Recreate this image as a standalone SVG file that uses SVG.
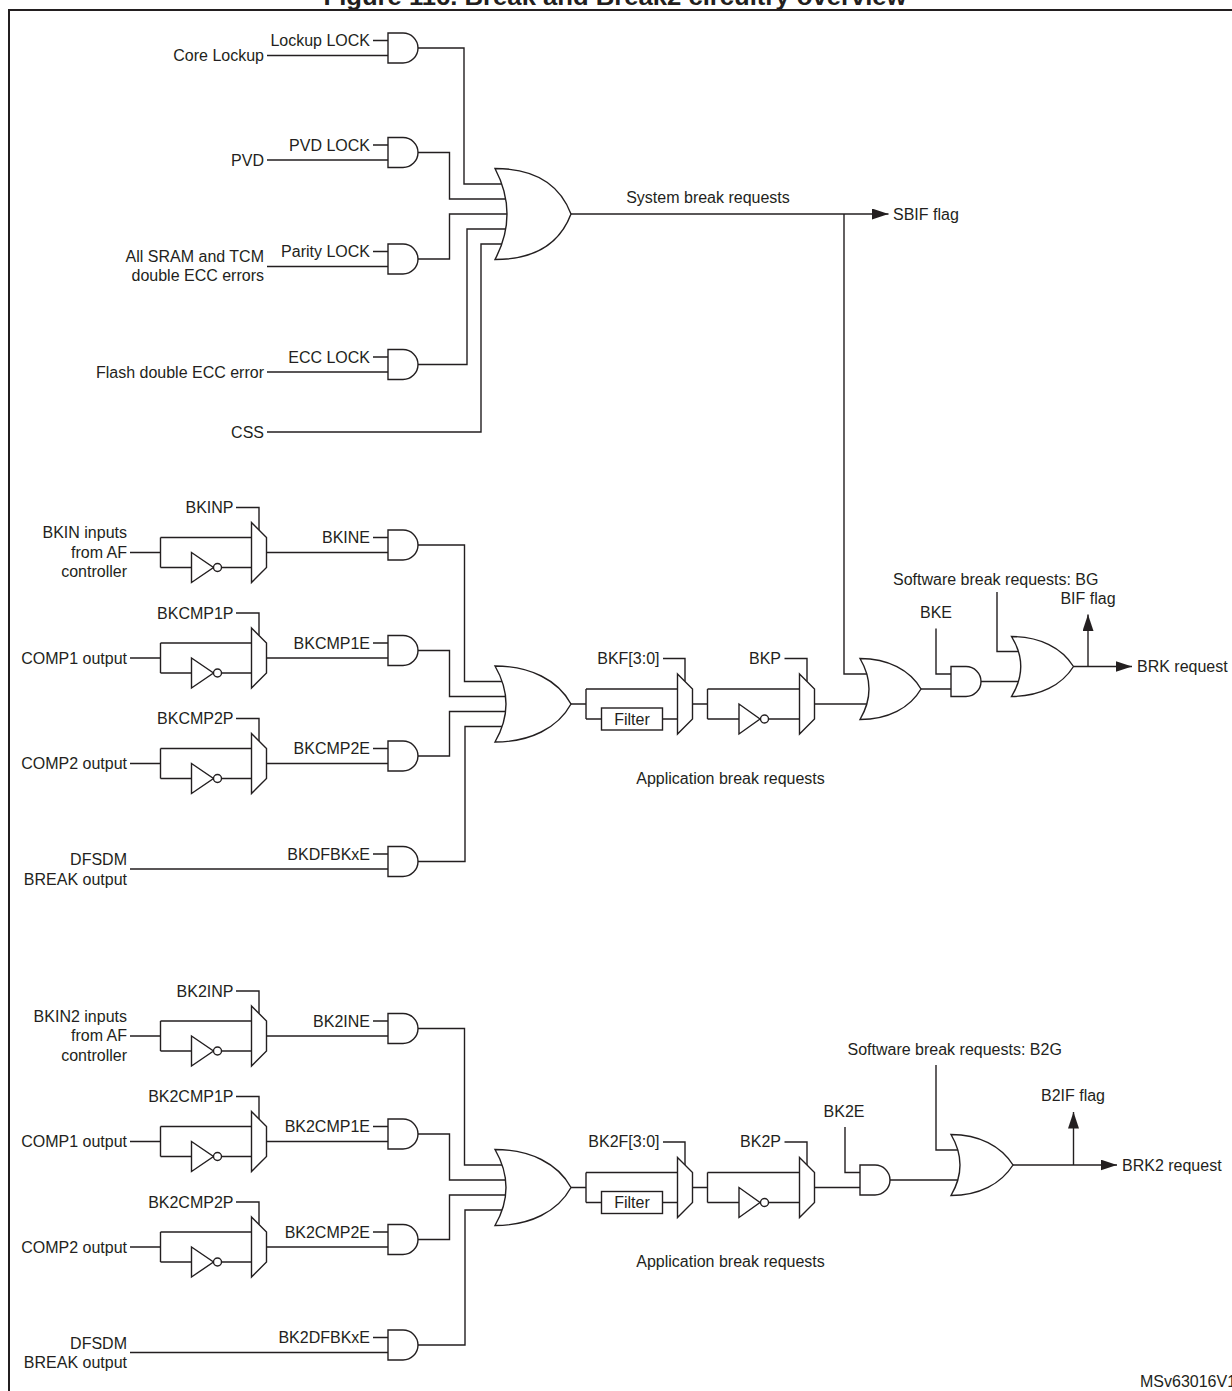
<svg xmlns="http://www.w3.org/2000/svg" width="1232" height="1391" viewBox="0 0 1232 1391">
<style>
.w{fill:none;stroke:#231f20;stroke-width:1.4}
.g{fill:#fff;stroke:#231f20;stroke-width:1.4}
.t{font-family:"Liberation Sans",Arial,sans-serif;font-size:16px;fill:#231f20}
.e{text-anchor:end}
.m{text-anchor:middle}
.ttl{font-family:"Liberation Sans",Arial,sans-serif;font-size:24px;font-weight:bold;fill:#231f20;text-anchor:middle}
</style>
<defs>
<marker id="arr" markerUnits="userSpaceOnUse" markerWidth="18" markerHeight="12" refX="16.5" refY="5.5" orient="auto">
<path d="M0,0 L16.5,5.5 L0,11 Z" fill="#231f20"/>
</marker>
</defs>
<rect width="1232" height="1391" fill="#fff"/>
<text class="ttl" x="615" y="5" textLength="583" lengthAdjust="spacingAndGlyphs">Figure 116. Break and Break2 circuitry overview</text>
<rect x="9" y="10" width="1240" height="1400" fill="none" stroke="#231f20" stroke-width="2"/>

<g id="connectors">
<!-- section 1 -->
<path class="w" d="M373,40.5 H388 M267,55.5 H388"/>
<path class="w" d="M373,145 H388 M267,160 H388"/>
<path class="w" d="M373,251.5 H388 M267,266.5 H388"/>
<path class="w" d="M373,357 H388 M267,372 H388"/>
<path class="w" d="M418,48 H464 V184 H510"/>
<path class="w" d="M418,152.5 H449.5 V199 H510"/>
<path class="w" d="M418,259 H449.5 V214 H510"/>
<path class="w" d="M418,364.5 H467 V229 H510"/>
<path class="w" d="M267,432 H481 V244 H510"/>
<path class="w" d="M571,214 H888.5" marker-end="url(#arr)"/>
<path class="w" d="M844,214 V674 H875"/>
<!-- section 2 inputs -->
<path class="w" d="M130,552.5 H160.5 M160.5,537.5 V567.5 M160.5,537.5 H251.5 M160.5,567.5 H191.5 M221.5,567.5 H251.5 M236,507.5 H259 V530 M266.5,552.5 H388 M373,537.5 H388"/>
<path class="w" d="M130,658 H160.5 M160.5,643 V673 M160.5,643 H251.5 M160.5,673 H191.5 M221.5,673 H251.5 M236,613 H259 V635.5 M266.5,658 H388 M373,643 H388"/>
<path class="w" d="M130,763.5 H160.5 M160.5,748.5 V778.5 M160.5,748.5 H251.5 M160.5,778.5 H191.5 M221.5,778.5 H251.5 M236,718.5 H259 V741 M266.5,763.5 H388 M373,748.5 H388"/>
<path class="w" d="M130,869 H388 M373,854 H388"/>
<path class="w" d="M418,545 H464.5 V681.5 H510"/>
<path class="w" d="M418,650.5 H449.5 V696.5 H510"/>
<path class="w" d="M418,756 H449.5 V711.5 H510"/>
<path class="w" d="M418,861.5 H465 V726.5 H510"/>
<!-- section 2 middle -->
<path class="w" d="M571,704 H586 M586,689 V719 M586,689 H677.5 M586,719 H601.5 M662.5,719 H677.5 M663,658.5 H685 V681.5"/>
<path class="w" d="M692.5,704 H707.5 M707.5,689 V719 M707.5,689 H799.5 M707.5,719 H739 M768.5,719 H799.5 M784.5,658.5 H807 V681.5"/>
<path class="w" d="M814.5,704 H870"/>
<path class="w" d="M921,689 H951 M936,628.5 V674 H951"/>
<path class="w" d="M981,681.5 H1020 M997,592 V651.5 H1020"/>
<path class="w" d="M1073.5,666.5 H1132" marker-end="url(#arr)"/>
<path class="w" d="M1088,666.5 V614.5" marker-end="url(#arr)"/>
<!-- section 3 inputs -->
<path class="w" d="M130,1036 H160.5 M160.5,1021 V1051 M160.5,1021 H251.5 M160.5,1051 H191.5 M221.5,1051 H251.5 M236,991 H259 V1013.5 M266.5,1036 H388 M373,1021 H388"/>
<path class="w" d="M130,1141.5 H160.5 M160.5,1126.5 V1156.5 M160.5,1126.5 H251.5 M160.5,1156.5 H191.5 M221.5,1156.5 H251.5 M236,1096.5 H259 V1119 M266.5,1141.5 H388 M373,1126.5 H388"/>
<path class="w" d="M130,1247 H160.5 M160.5,1232 V1262 M160.5,1232 H251.5 M160.5,1262 H191.5 M221.5,1262 H251.5 M236,1202 H259 V1224.5 M266.5,1247 H388 M373,1232 H388"/>
<path class="w" d="M130,1352.5 H388 M373,1337.5 H388"/>
<path class="w" d="M418,1028.5 H464.5 V1165 H510"/>
<path class="w" d="M418,1134 H449.5 V1180 H510"/>
<path class="w" d="M418,1239.5 H449.5 V1195 H510"/>
<path class="w" d="M418,1345 H465 V1210 H510"/>
<!-- section 3 middle -->
<path class="w" d="M571,1187.5 H586 M586,1172.5 V1202.5 M586,1172.5 H677.5 M586,1202.5 H601.5 M662.5,1202.5 H677.5 M663,1142 H685 V1165"/>
<path class="w" d="M692.5,1187.5 H707.5 M707.5,1172.5 V1202.5 M707.5,1172.5 H799.5 M707.5,1202.5 H739 M768.5,1202.5 H799.5 M784.5,1142 H807 V1165"/>
<path class="w" d="M814.5,1187.5 H860 M845,1127 V1172.5 H860"/>
<path class="w" d="M890,1180 H960 M936,1065 V1150 H960"/>
<path class="w" d="M1013,1165 H1117" marker-end="url(#arr)"/>
<path class="w" d="M1073.5,1165 V1112" marker-end="url(#arr)"/>
</g>

<!-- Section 1 nodes -->
<g id="and-lockup">
<path class="g" d="M388,33 H403 A15,15 0 0 1 403,63 H388 Z"/>
<text class="t e" x="370" y="46">Lockup LOCK</text>
<text class="t e" x="264" y="61">Core Lockup</text>
</g>
<g id="and-pvd">
<path class="g" d="M388,137.5 H403 A15,15 0 0 1 403,167.5 H388 Z"/>
<text class="t e" x="370" y="150.5">PVD LOCK</text>
<text class="t e" x="264" y="165.5">PVD</text>
</g>
<g id="and-parity">
<path class="g" d="M388,244 H403 A15,15 0 0 1 403,274 H388 Z"/>
<text class="t e" x="370" y="257">Parity LOCK</text>
<text class="t e" x="264" y="262">All SRAM and TCM</text>
<text class="t e" x="264" y="281">double ECC errors</text>
</g>
<g id="and-ecc">
<path class="g" d="M388,349.5 H403 A15,15 0 0 1 403,379.5 H388 Z"/>
<text class="t e" x="370" y="362.5">ECC LOCK</text>
<text class="t e" x="264" y="377.5">Flash double ECC error</text>
</g>
<g id="css">
<text class="t e" x="264" y="437.5">CSS</text>
</g>
<g id="or-system">
<path class="g" d="M495,168.5 C535,168.5 560,185 571,214 C560,243 535,259.5 495,259.5 Q519,214 495,168.5 Z"/>
<text class="t m" x="708" y="203">System break requests</text>
</g>
<g id="sbif">
<text class="t" x="893" y="219.5">SBIF flag</text>
</g>

<!-- Section 2 nodes -->
<g id="bkin">
<text class="t e" x="127" y="538">BKIN inputs</text>
<text class="t e" x="127" y="557.5">from AF</text>
<text class="t e" x="127" y="577">controller</text>
<path class="g" d="M191.5,552.5 V582.5 L213.5,567.5 Z"/>
<circle class="g" cx="217.5" cy="567.5" r="4"/>
<path class="g" d="M251.5,522.5 L266.5,537.5 V567.5 L251.5,582.5 Z"/>
<text class="t e" x="233.5" y="513">BKINP</text>
<path class="g" d="M388,530 H403 A15,15 0 0 1 403,560 H388 Z"/>
<text class="t e" x="370" y="543">BKINE</text>
</g>
<g id="bkcmp1">
<text class="t e" x="127" y="663.5">COMP1 output</text>
<path class="g" d="M191.5,658 V688 L213.5,673 Z"/>
<circle class="g" cx="217.5" cy="673" r="4"/>
<path class="g" d="M251.5,628 L266.5,643 V673 L251.5,688 Z"/>
<text class="t e" x="233.5" y="618.5">BKCMP1P</text>
<path class="g" d="M388,635.5 H403 A15,15 0 0 1 403,665.5 H388 Z"/>
<text class="t e" x="370" y="648.5">BKCMP1E</text>
</g>
<g id="bkcmp2">
<text class="t e" x="127" y="769">COMP2 output</text>
<path class="g" d="M191.5,763.5 V793.5 L213.5,778.5 Z"/>
<circle class="g" cx="217.5" cy="778.5" r="4"/>
<path class="g" d="M251.5,733.5 L266.5,748.5 V778.5 L251.5,793.5 Z"/>
<text class="t e" x="233.5" y="724">BKCMP2P</text>
<path class="g" d="M388,741 H403 A15,15 0 0 1 403,771 H388 Z"/>
<text class="t e" x="370" y="754">BKCMP2E</text>
</g>
<g id="bkdfsdm">
<text class="t e" x="127" y="865">DFSDM</text>
<text class="t e" x="127" y="884.5">BREAK output</text>
<path class="g" d="M388,846.5 H403 A15,15 0 0 1 403,876.5 H388 Z"/>
<text class="t e" x="370" y="859.5">BKDFBKxE</text>
</g>
<g id="or-app">
<path class="g" d="M495,666 C530,666 558,680 571,704 C558,728 530,742 495,742 Q517,704 495,666 Z"/>
</g>
<g id="filter">
<rect class="g" x="601.5" y="708" width="61" height="22"/>
<text class="t m" x="632" y="724.5">Filter</text>
<path class="g" d="M677.5,674 L692.5,689 V719 L677.5,734 Z"/>
<text class="t e" x="659.5" y="663.5">BKF[3:0]</text>
</g>
<g id="polarity">
<path class="g" d="M739,704 V734 L760,719 Z"/>
<circle class="g" cx="764.5" cy="719" r="4"/>
<path class="g" d="M799.5,674 L814.5,689 V719 L799.5,734 Z"/>
<text class="t e" x="781" y="663.5">BKP</text>
<text class="t m" x="730.5" y="783.5">Application break requests</text>
</g>
<g id="or-brk1">
<path class="g" d="M860,658.5 C888,658.5 910,670 921,689 C910,708 888,719.5 860,719.5 Q878,689 860,658.5 Z"/>
</g>
<g id="and-bke">
<path class="g" d="M951,666.5 H966 A15,15 0 0 1 966,696.5 H951 Z"/>
<text class="t m" x="936" y="617.5">BKE</text>
</g>
<g id="or-brk2">
<path class="g" d="M1011.5,636.5 C1040,636.5 1062,648 1073.5,666.5 C1062,685 1040,696.5 1011.5,696.5 Q1030,666.5 1011.5,636.5 Z"/>
<text class="t" x="893" y="584.5">Software break requests: BG</text>
</g>
<g id="brk-out">
<text class="t" x="1137" y="672">BRK request</text>
<text class="t m" x="1088" y="603.5">BIF flag</text>
</g>

<!-- Section 3 nodes -->
<g id="bk2in">
<text class="t e" x="127" y="1021.5">BKIN2 inputs</text>
<text class="t e" x="127" y="1041">from AF</text>
<text class="t e" x="127" y="1060.5">controller</text>
<path class="g" d="M191.5,1036 V1066 L213.5,1051 Z"/>
<circle class="g" cx="217.5" cy="1051" r="4"/>
<path class="g" d="M251.5,1006 L266.5,1021 V1051 L251.5,1066 Z"/>
<text class="t e" x="233.5" y="996.5">BK2INP</text>
<path class="g" d="M388,1013.5 H403 A15,15 0 0 1 403,1043.5 H388 Z"/>
<text class="t e" x="370" y="1026.5">BK2INE</text>
</g>
<g id="bk2cmp1">
<text class="t e" x="127" y="1147">COMP1 output</text>
<path class="g" d="M191.5,1141.5 V1171.5 L213.5,1156.5 Z"/>
<circle class="g" cx="217.5" cy="1156.5" r="4"/>
<path class="g" d="M251.5,1111.5 L266.5,1126.5 V1156.5 L251.5,1171.5 Z"/>
<text class="t e" x="233.5" y="1102">BK2CMP1P</text>
<path class="g" d="M388,1119 H403 A15,15 0 0 1 403,1149 H388 Z"/>
<text class="t e" x="370" y="1132">BK2CMP1E</text>
</g>
<g id="bk2cmp2">
<text class="t e" x="127" y="1252.5">COMP2 output</text>
<path class="g" d="M191.5,1247 V1277 L213.5,1262 Z"/>
<circle class="g" cx="217.5" cy="1262" r="4"/>
<path class="g" d="M251.5,1217 L266.5,1232 V1262 L251.5,1277 Z"/>
<text class="t e" x="233.5" y="1207.5">BK2CMP2P</text>
<path class="g" d="M388,1224.5 H403 A15,15 0 0 1 403,1254.5 H388 Z"/>
<text class="t e" x="370" y="1237.5">BK2CMP2E</text>
</g>
<g id="bk2dfsdm">
<text class="t e" x="127" y="1348.5">DFSDM</text>
<text class="t e" x="127" y="1368">BREAK output</text>
<path class="g" d="M388,1330 H403 A15,15 0 0 1 403,1360 H388 Z"/>
<text class="t e" x="370" y="1343">BK2DFBKxE</text>
</g>
<g id="or-app2">
<path class="g" d="M495,1149.5 C530,1149.5 558,1163.5 571,1187.5 C558,1211.5 530,1225.5 495,1225.5 Q517,1187.5 495,1149.5 Z"/>
</g>
<g id="filter2">
<rect class="g" x="601.5" y="1191.5" width="61" height="22"/>
<text class="t m" x="632" y="1208">Filter</text>
<path class="g" d="M677.5,1157.5 L692.5,1172.5 V1202.5 L677.5,1217.5 Z"/>
<text class="t e" x="659.5" y="1147">BK2F[3:0]</text>
</g>
<g id="polarity2">
<path class="g" d="M739,1187.5 V1217.5 L760,1202.5 Z"/>
<circle class="g" cx="764.5" cy="1202.5" r="4"/>
<path class="g" d="M799.5,1157.5 L814.5,1172.5 V1202.5 L799.5,1217.5 Z"/>
<text class="t e" x="781" y="1147">BK2P</text>
<text class="t m" x="730.5" y="1267">Application break requests</text>
</g>
<g id="and-bk2e">
<path class="g" d="M860,1165 H875 A15,15 0 0 1 875,1195 H860 Z"/>
<text class="t m" x="844" y="1116.5">BK2E</text>
</g>
<g id="or-brk2-out">
<path class="g" d="M951,1134.5 C979,1134.5 1001,1146 1013,1165 C1001,1184 979,1195.5 951,1195.5 Q969,1165 951,1134.5 Z"/>
<text class="t" x="847.5" y="1055">Software break requests: B2G</text>
</g>
<g id="brk2-out">
<text class="t" x="1122" y="1170.5">BRK2 request</text>
<text class="t m" x="1073" y="1101">B2IF flag</text>
</g>
<g id="ref">
<text class="t" x="1140" y="1387">MSv63016V1</text>
</g>
</svg>
